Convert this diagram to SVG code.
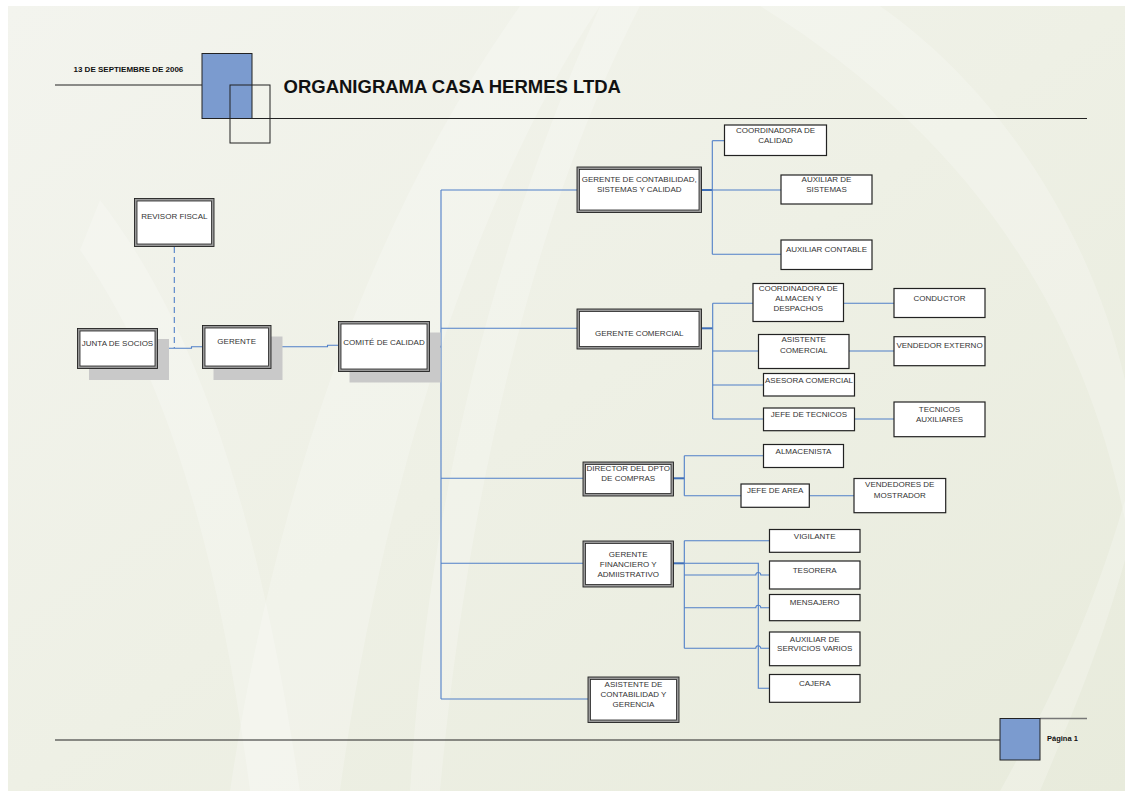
<svg xmlns="http://www.w3.org/2000/svg" width="1133" height="798" viewBox="0 0 1133 798">
<defs>
<linearGradient id="bg" x1="0" y1="0" x2="1" y2="1">
<stop offset="0" stop-color="#f3f4ee"/>
<stop offset="0.5" stop-color="#eef0e5"/>
<stop offset="1" stop-color="#e8ebdc"/>
</linearGradient>
<style>
.t{font-family:"Liberation Sans",Arial,sans-serif;font-size:8px;fill:#333;text-anchor:middle}
.b{font-family:"Liberation Sans",Arial,sans-serif;font-weight:bold;fill:#111}
.dbo{fill:#999;stroke:#222;stroke-width:0.9}
.dbi{fill:#fff;stroke:#222;stroke-width:0.8}
.sb{fill:#fff;stroke:#222;stroke-width:1.2}
.sh{fill:#c9c9c9}
.c{fill:none;stroke:#4f7fc8;stroke-width:1.1}
.ck{fill:none;stroke:#3f6fb8;stroke-width:2}
.sw{fill:#ffffff;opacity:0.22}
</style>
</defs>
<rect x="0" y="0" width="1133" height="798" fill="#ffffff"/>
<rect x="8" y="6" width="1117" height="785" fill="url(#bg)"/>
<g id="background">
<path class="sw" d="M520 6 L600 6 C470 200 380 500 340 791 L230 791 C270 520 360 230 520 6 Z"/>
<path class="sw" d="M600 6 L640 6 C540 200 470 470 440 791 L410 791 C430 480 500 230 600 6 Z" opacity="0.15"/>
<path class="sw" d="M760 6 L880 6 C1000 90 1090 230 1125 380 L1125 520 C1080 300 960 130 760 6 Z"/>
<path class="sw" d="M100 200 C200 330 260 520 300 791 L250 791 C220 560 170 380 80 250 Z" opacity="0.15"/>
<path class="sw" d="M1125 560 C1100 650 1070 720 1040 791 L1000 791 C1050 700 1090 620 1125 500 Z" opacity="0.15"/>
</g>
<g id="header">
<text class="b" x="73.5" y="71.5" font-size="8">13 DE SEPTIEMBRE DE 2006</text>
<line x1="55" y1="85" x2="230" y2="85" stroke="#222" stroke-width="1"/>
<rect x="202" y="53.5" width="50" height="65" fill="#7b9bcf" stroke="#222" stroke-width="1"/>
<rect x="230" y="85" width="40" height="58" fill="none" stroke="#222" stroke-width="1"/>
<line x1="226" y1="118.5" x2="1087" y2="118.5" stroke="#222" stroke-width="1"/>
<text class="b" x="283.5" y="93" font-size="18.5">ORGANIGRAMA CASA HERMES LTDA</text>
</g>
<g id="footer">
<line x1="55" y1="740" x2="1000" y2="740" stroke="#222" stroke-width="1"/>
<line x1="1040" y1="718.5" x2="1087" y2="718.5" stroke="#777" stroke-width="1.5"/>
<rect x="1000" y="718.5" width="40" height="41.5" fill="#7b9bcf" stroke="#222" stroke-width="1"/>
<text class="b" x="1047" y="741" font-size="7.5">Página 1</text>
</g>
<g id="connectors">
<path class="c" d="M174.3 247 V348" stroke-dasharray="6,4"/>
<path class="c" d="M158 348.3 H191.5 V346.7 H202"/>
<path class="c" d="M271 346.7 H327.5 V345.3 H338"/>
<path class="ck" d="M429.5 346.7 H441"/>
<path class="c" d="M441 190 V699"/>
<path class="c" d="M441 190 H577"/>
<path class="c" d="M441 328.3 H577"/>
<path class="c" d="M441 478.3 H583"/>
<path class="c" d="M441 563.3 H583"/>
<path class="c" d="M441 699 H588"/>
<path class="ck" d="M702 190 H712.3"/>
<path class="c" d="M712.3 140.7 V254.3"/>
<path class="c" d="M712.3 140.7 H724.5"/>
<path class="c" d="M712.3 190 H781"/>
<path class="c" d="M712.3 254.3 H781"/>
<path class="ck" d="M702 328.3 H712.7"/>
<path class="c" d="M712.7 303.3 V419"/>
<path class="c" d="M712.7 303.3 H753"/>
<path class="c" d="M712.7 351 H758.5"/>
<path class="c" d="M712.7 385 H763.5"/>
<path class="c" d="M712.7 419 H763.5"/>
<path class="c" d="M843.3 303.3 H894"/>
<path class="c" d="M849 351 H894"/>
<path class="c" d="M854.3 419 H894"/>
<path class="ck" d="M673.5 478.3 H684.3"/>
<path class="c" d="M684.3 455.7 V495.7"/>
<path class="c" d="M684.3 455.7 H763.5"/>
<path class="c" d="M684.3 495.7 H741"/>
<path class="c" d="M809.3 495.7 H854"/>
<path class="ck" d="M673.5 563.3 H684.3"/>
<path class="c" d="M684.3 563.3 H758.3 V688.3 H769.5"/>
<path class="c" d="M684.3 540.7 V648.3"/>
<path class="c" d="M684.3 540.7 H769.5"/>
<path class="c" d="M684.3 575 H755.8 A2.5 2.5 0 0 1 760.8 575 H769.5"/>
<path class="c" d="M684.3 607.7 H755.8 A2.5 2.5 0 0 1 760.8 607.7 H769.5"/>
<path class="c" d="M684.3 648.3 H755.8 A2.5 2.5 0 0 1 760.8 648.3 H769.5"/>
</g>
<g id="revisor-fiscal">
<rect class="dbo" x="134.5" y="198.5" width="79.5" height="48"/>
<rect class="dbi" x="137" y="201" width="74.5" height="43"/>
<text class="t" x="174.3" y="218.5">REVISOR FISCAL</text>
</g>
<g id="junta-de-socios">
<rect class="sh" x="89" y="339" width="80" height="41"/>
<rect class="dbo" x="77.5" y="328.5" width="80" height="40"/>
<rect class="dbi" x="80" y="331" width="75" height="35"/>
<text class="t" x="117.5" y="346">JUNTA DE SOCIOS</text>
</g>
<g id="gerente">
<rect class="sh" x="213.5" y="336.5" width="69" height="43.5"/>
<rect class="dbo" x="202.5" y="325.5" width="68.5" height="43"/>
<rect class="dbi" x="205" y="328" width="63.5" height="38"/>
<text class="t" x="236.7" y="344">GERENTE</text>
</g>
<g id="comite-de-calidad">
<rect class="sh" x="349.5" y="332.5" width="91" height="50"/>
<rect class="dbo" x="338.5" y="321.5" width="91" height="50"/>
<rect class="dbi" x="341" y="324" width="86" height="45"/>
<text class="t" x="384" y="345">COMITÉ DE CALIDAD</text>
</g>
<g id="gerente-contabilidad">
<rect class="dbo" x="577" y="167" width="124.5" height="45.5"/>
<rect class="dbi" x="579.5" y="169.5" width="119.5" height="40.5"/>
<text class="t" x="639.2" y="182.3">GERENTE DE CONTABILIDAD,</text>
<text class="t" x="639.2" y="192.3">SISTEMAS Y CALIDAD</text>
</g>
<g id="gerente-comercial">
<rect class="dbo" x="577" y="309" width="124.5" height="40"/>
<rect class="dbi" x="579.5" y="311.5" width="119.5" height="35"/>
<text class="t" x="639.2" y="335.7">GERENTE COMERCIAL</text>
</g>
<g id="director-compras">
<rect class="dbo" x="583" y="462" width="90.5" height="34"/>
<rect class="dbi" x="585.5" y="464.5" width="85.5" height="29"/>
<text class="t" x="628.2" y="470.7">DIRECTOR DEL DPTO</text>
<text class="t" x="628.2" y="480.7">DE COMPRAS</text>
</g>
<g id="gerente-financiero">
<rect class="dbo" x="583" y="541" width="90.5" height="46"/>
<rect class="dbi" x="585.5" y="543.5" width="85.5" height="41"/>
<text class="t" x="628.2" y="556.7">GERENTE</text>
<text class="t" x="628.2" y="566.7">FINANCIERO Y</text>
<text class="t" x="628.2" y="576.7">ADMIISTRATIVO</text>
</g>
<g id="asistente-contabilidad-gerencia">
<rect class="dbo" x="588" y="677" width="91" height="45.5"/>
<rect class="dbi" x="590.5" y="679.5" width="86" height="40.5"/>
<text class="t" x="633.5" y="687.3">ASISTENTE DE</text>
<text class="t" x="633.5" y="697">CONTABILIDAD Y</text>
<text class="t" x="633.5" y="706.7">GERENCIA</text>
</g>
<g id="coordinadora-calidad">
<rect class="sb" x="724.5" y="125" width="102" height="30.5"/>
<text class="t" x="775.5" y="133.3">COORDINADORA DE</text>
<text class="t" x="775.5" y="143.3">CALIDAD</text>
</g>
<g id="auxiliar-sistemas">
<rect class="sb" x="781" y="175" width="91" height="29"/>
<text class="t" x="826.5" y="181.5">AUXILIAR DE</text>
<text class="t" x="826.5" y="191.5">SISTEMAS</text>
</g>
<g id="auxiliar-contable">
<rect class="sb" x="781" y="240" width="91" height="29.5"/>
<text class="t" x="826.5" y="251.7">AUXILIAR CONTABLE</text>
</g>
<g id="coordinadora-almacen">
<rect class="sb" x="753" y="283.5" width="90.5" height="38"/>
<text class="t" x="798.2" y="290.5">COORDINADORA DE</text>
<text class="t" x="798.2" y="300.7">ALMACEN Y</text>
<text class="t" x="798.2" y="310.5">DESPACHOS</text>
</g>
<g id="conductor">
<rect class="sb" x="894" y="288.5" width="91" height="29"/>
<text class="t" x="939.5" y="300.7">CONDUCTOR</text>
</g>
<g id="asistente-comercial">
<rect class="sb" x="758.5" y="334.5" width="90.5" height="34"/>
<text class="t" x="803.7" y="342">ASISTENTE</text>
<text class="t" x="803.7" y="352.5">COMERCIAL</text>
</g>
<g id="vendedor-externo">
<rect class="sb" x="894" y="336.7" width="91" height="29"/>
<text class="t" x="939.5" y="348.3">VENDEDOR EXTERNO</text>
</g>
<g id="asesora-comercial">
<rect class="sb" x="763.5" y="373.5" width="91" height="22.5"/>
<text class="t" x="809" y="383.3">ASESORA COMERCIAL</text>
</g>
<g id="jefe-tecnicos">
<rect class="sb" x="763.5" y="408" width="91" height="22.7"/>
<text class="t" x="809" y="416.7">JEFE DE TECNICOS</text>
</g>
<g id="tecnicos-auxiliares">
<rect class="sb" x="894" y="402" width="91" height="34.7"/>
<text class="t" x="939.5" y="411.7">TECNICOS</text>
<text class="t" x="939.5" y="422.3">AUXILIARES</text>
</g>
<g id="almacenista">
<rect class="sb" x="763.5" y="444.5" width="80" height="23"/>
<text class="t" x="803.5" y="454">ALMACENISTA</text>
</g>
<g id="jefe-area">
<rect class="sb" x="741" y="484" width="68.3" height="23.3"/>
<text class="t" x="775.2" y="492.7">JEFE DE AREA</text>
</g>
<g id="vendedores-mostrador">
<rect class="sb" x="854" y="478.5" width="91.7" height="34.2"/>
<text class="t" x="899.8" y="487.3">VENDEDORES DE</text>
<text class="t" x="899.8" y="498.3">MOSTRADOR</text>
</g>
<g id="vigilante">
<rect class="sb" x="769.5" y="529.5" width="90.5" height="22.8"/>
<text class="t" x="814.7" y="539">VIGILANTE</text>
</g>
<g id="tesorera">
<rect class="sb" x="769.5" y="561" width="90.5" height="28"/>
<text class="t" x="814.7" y="572.7">TESORERA</text>
</g>
<g id="mensajero">
<rect class="sb" x="769.5" y="594.5" width="90.5" height="26.2"/>
<text class="t" x="814.7" y="605">MENSAJERO</text>
</g>
<g id="auxiliar-servicios-varios">
<rect class="sb" x="769.5" y="632" width="90.5" height="33.7"/>
<text class="t" x="814.7" y="641.7">AUXILIAR DE</text>
<text class="t" x="814.7" y="651.2">SERVICIOS VARIOS</text>
</g>
<g id="cajera">
<rect class="sb" x="769.5" y="674.5" width="90.5" height="27.8"/>
<text class="t" x="814.7" y="685.7">CAJERA</text>
</g>
</svg>
